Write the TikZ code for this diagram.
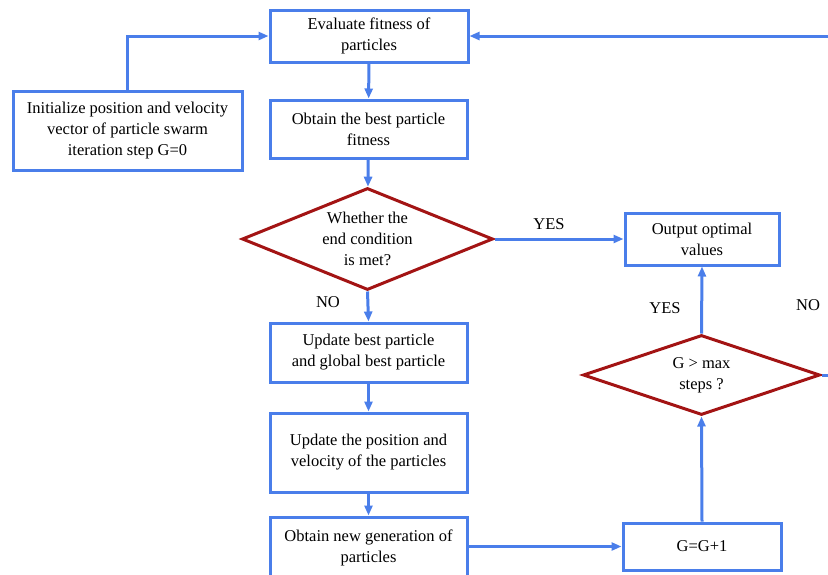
\documentclass[tikz,border=0pt]{standalone}
\usepackage{fontspec}
\setmainfont{Liberation Serif}
\usetikzlibrary{arrows.meta, shapes.geometric}
\definecolor{psoBlue}{HTML}{4A7EEA}
\definecolor{psoRed}{HTML}{A31414}
\tikzset{
  arrowB/.style={-{Stealth[length=10pt, width=8pt, inset=0pt]}, psoBlue, line width=3pt},
  boxB/.style={rectangle, draw=psoBlue, fill=white, line width=3pt,
               align=center, inner sep=2pt},
  decR/.style={diamond, draw=psoRed, fill=white, line width=3pt, inner sep=0pt},
  decText/.style={align=center, inner sep=0pt},
  lbl/.style={inner sep=0pt},
}
\begin{document}
\begin{tikzpicture}[x=1pt, y=-1pt, font=\rmfamily\fontsize{16.5}{21}\selectfont]
    \useasboundingbox (0,0) rectangle (828,574);
    \clip (0,0) rectangle (828,574);
    \node[boxB, minimum width=198pt, minimum height=52pt] (eval) at (369,36)
      {Evaluate fitness of\\particles};
    \node[boxB, minimum width=229pt, minimum height=79pt] (init) at (127.5,130.5)
      {Initialize position and velocity\\vector of particle swarm\\iteration step G=0};
    \node[boxB, minimum width=197pt, minimum height=58pt] (best) at (368.5,129)
      {Obtain the best particle\\fitness};
    \node[decR, minimum width=251pt, minimum height=102pt] (endq) at (367.5,239) {};
    \node[decText] (endqtxt) at (endq.center) {Whether the\\end condition\\is met?};
    \node[boxB, minimum width=154pt, minimum height=52pt] (output) at (702,239)
      {Output optimal\\values};
    \node[boxB, minimum width=197pt, minimum height=59pt] (updbest) at (368.5,352.5)
      {Update best particle\\and global best particle};
    \node[boxB, minimum width=197pt, minimum height=79pt] (updpos) at (368.5,452.5)
      {Update the position and\\velocity of the particles};
    \node[boxB, minimum width=197pt, minimum height=62pt] (newgen) at (368.5,548)
      {Obtain new generation of\\particles};
    \node[boxB, minimum width=158pt, minimum height=47pt] (gcount) at (702,546.5)
      {G=G+1};
    \node[decR, minimum width=237pt, minimum height=80pt] (maxq) at (701.5,375) {};
    \node[decText] (maxqtxt) at (maxq.center) {G > max\\steps ?};
    \draw[arrowB] (init.north) |- (eval.west);
    \draw[arrowB] (eval) -- (best);
    \draw[arrowB] (best) -- (endq);
    \draw[arrowB] (endq.east) -- (output.west);
    \draw[arrowB] (endq.south) -- (updbest.north);
    \draw[arrowB] (updbest) -- (updpos);
    \draw[arrowB] (updpos) -- (newgen);
    \draw[arrowB] (newgen.east |- gcount.west) -- (gcount.west);
    \draw[arrowB] (gcount.north) -- (maxq.south);
    \draw[arrowB] (maxq.north) -- (output.south);
    \draw[arrowB] (maxq.east) -- ++(30,0) |- (eval.east);
    \node[lbl] (yesA) at (549,224) {YES};
    \node[lbl] (noA) at (328,302) {NO};
    \node[lbl] (yesB) at (665,308) {YES};
    \node[lbl] (noB) at (808,305) {NO};
  \end{tikzpicture}
\end{document}
